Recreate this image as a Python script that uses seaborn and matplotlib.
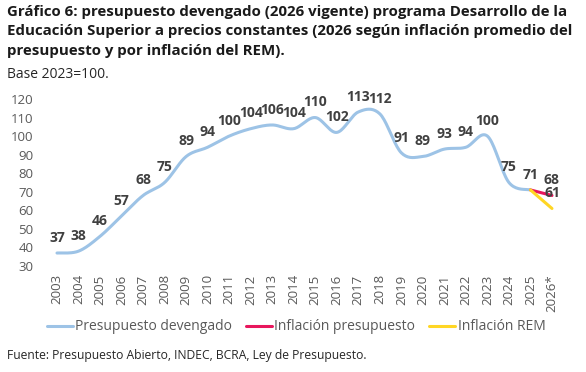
import numpy as np
import pandas as pd
import matplotlib
matplotlib.use("Agg")
import matplotlib.pyplot as plt
import seaborn as sns

# data
years = ["2003", "2004", "2005", "2006", "2007", "2008", "2009", "2010", "2011",
         "2012", "2013", "2014", "2015", "2016", "2017", "2018", "2019", "2020",
         "2021", "2022", "2023", "2024", "2025", "2026*"]
devengado = [37, 38, 46, 57, 68, 75, 89, 94, 100, 104, 106, 104, 110, 102,
             113, 112, 91, 89, 93, 94, 100, 75, 71]
infl_presupuesto = [71, 68]   # 2025 -> 2026*
infl_rem = [71, 61]           # 2025 -> 2026*
yticks = [30, 40, 50, 60, 70, 80, 90, 100, 110, 120]

BLUE = "#9dc3e6"
PINK = "#e8175d"
YELLOW = "#ffd624"
LABEL = "#404040"
GRAY = "#595959"

sns.set_theme(style="white")
plt.rcParams["font.family"] = ["Open Sans", "DejaVu Sans"]


def smooth(y, n=20):
    """Catmull-Rom curve through the points (like Excel's smoothed line)."""
    y = np.asarray(y, dtype=float)
    x = np.arange(len(y), dtype=float)
    px = np.concatenate([[x[0]], x, [x[-1]]])
    py = np.concatenate([[y[0]], y, [y[-1]]])
    xs, ys = [], []
    for i in range(1, len(px) - 2):
        t = np.linspace(0, 1, n, endpoint=False)
        for arr, out in ((px, xs), (py, ys)):
            p0, p1, p2, p3 = arr[i - 1], arr[i], arr[i + 1], arr[i + 2]
            out.extend(0.5 * ((2 * p1) + (-p0 + p2) * t
                              + (2 * p0 - 5 * p1 + 4 * p2 - p3) * t ** 2
                              + (-p0 + 3 * p1 - 3 * p2 + p3) * t ** 3))
    xs.append(x[-1])
    ys.append(y[-1])
    return pd.DataFrame({"x": xs, "y": ys})


fig = plt.figure(figsize=(5.86, 3.72), dpi=100)
ax = fig.add_axes([0.0789, 0.2849, 0.8814, 0.449])

curve = smooth(devengado)
sns.lineplot(data=curve, x="x", y="y", ax=ax, color=BLUE, linewidth=2.2,
             label="Presupuesto devengado", solid_capstyle="round", sort=False)
n = len(devengado)
sns.lineplot(x=[n - 1, n], y=infl_presupuesto, ax=ax, color=PINK, linewidth=2.2,
             label="Inflación presupuesto")
sns.lineplot(x=[n - 1, n], y=infl_rem, ax=ax, color=YELLOW, linewidth=2.2,
             label="Inflación REM")

# value labels
for i, v in enumerate(devengado):
    ax.annotate(str(v), (i, v), xytext=(0, 11), textcoords="offset points",
                ha="center", va="center", fontsize=10, fontweight="bold",
                color=LABEL, annotation_clip=False)
for v in (infl_presupuesto[1], infl_rem[1]):
    ax.annotate(str(v), (n, v), xytext=(0, 11), textcoords="offset points",
                ha="center", va="center", fontsize=10, fontweight="bold",
                color=LABEL, annotation_clip=False)

ax.set_xlim(-0.5, len(years) - 0.5)
ax.set_ylim(30, 120)
ax.set_yticks(yticks)
ax.set_xticks(range(len(years)))
ax.set_xticklabels(years, rotation=90)
ax.tick_params(axis="both", length=0, labelsize=9.5, colors=GRAY)
ax.tick_params(axis="y", pad=9)
ax.tick_params(axis="x", pad=6)
ax.set_xlabel("")
ax.set_ylabel("")
for s in ax.spines.values():
    s.set_visible(False)

handles, labels = ax.get_legend_handles_labels()
ax.legend_.remove()
leg = fig.legend(handles, labels, loc="center", bbox_to_anchor=(0.505, 1 - 327 / 372),
                 ncol=3, frameon=False, fontsize=10, handlelength=1.9,
                 handletextpad=0.15, columnspacing=1.0)
for t in leg.get_texts():
    t.set_color(GRAY)

fig.text(0.012, 1 - 5 / 372,
         "Gráfico 6: presupuesto devengado (2026 vigente) programa Desarrollo de la\n"
         "Educación Superior a precios constantes (2026 según inflación promedio del\n"
         "presupuesto y por inflación del REM).",
         ha="left", va="top", fontsize=10.8, fontweight="bold", color="#1a1a1a",
         linespacing=1.5)
fig.text(0.012, 1 - 75 / 372, "Base 2023=100.", ha="left", va="center",
         fontsize=10, color="#262626")
fig.text(0.012, 1 - 355 / 372,
         "Fuente: Presupuesto Abierto, INDEC, BCRA, Ley de Presupuesto.",
         ha="left", va="center", fontsize=8.7, color="#262626")

fig.savefig("out.png", dpi=100)
